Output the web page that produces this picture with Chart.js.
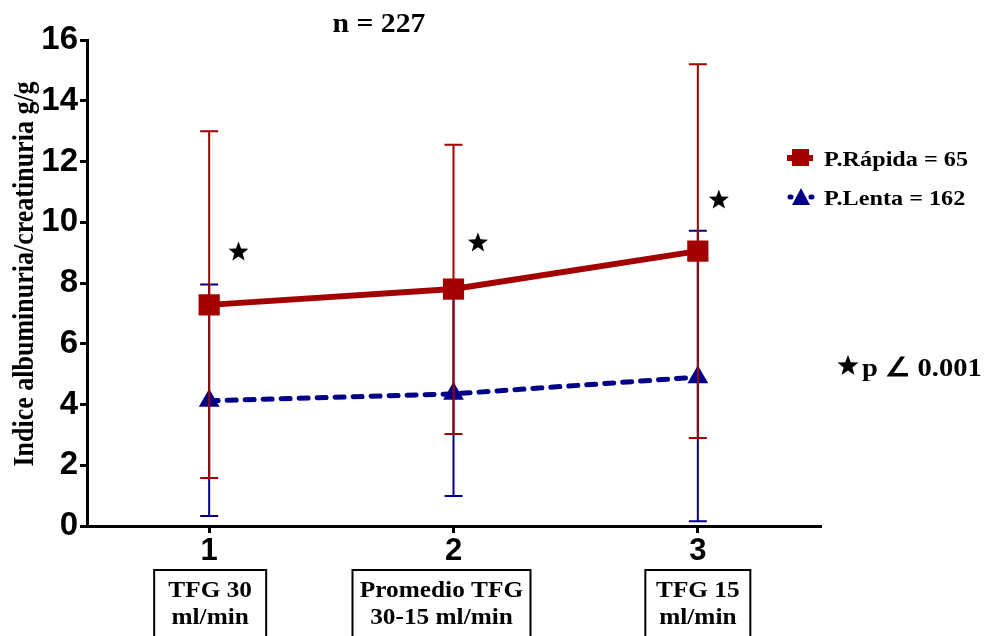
<!DOCTYPE html>
<html lang="es">
<head>
  <meta charset="UTF-8" />
  <title>Indice albuminuria/creatinuria</title>
  <script src="https://cdn.jsdelivr.net/npm/chart.js"></script>
  <style>
    html, body { margin: 0; padding: 0; background: #fff; }
    .wrap { position: relative; width: 989px; height: 636px; }
  </style>
</head>
<body>
  <div class="wrap"><canvas id="chart" width="989" height="636"></canvas></div>

  <script>
    // data
    const stages = [1, 2, 3];
    const stageLabels = [['TFG 30', 'ml/min'], ['Promedio TFG', '30-15 ml/min'], ['TFG 15', 'ml/min']];
    const rapidaMean = [7.28, 7.80, 9.05];
    const rapidaHigh = [13.0, 12.55, 15.2];
    const rapidaLow = [1.58, 3.03, 2.9];
    const lentaMean = [4.12, 4.35, 4.9];
    const lentaHigh = [7.95, 7.7, 9.72];
    const lentaLow = [0.33, 0.99, 0.16];
    const starX = [1.12, 2.1, 3.086];
    const starY = [9.02, 9.32, 10.73];
    const yTicks = [0, 2, 4, 6, 8, 10, 12, 14, 16];

    const RED = '#a30000';
    const BLUE = '#000088';
    const SERIF = '"Liberation Serif", "Times New Roman", serif';
    const SANS = '"Liberation Sans", Arial, sans-serif';
    const STRETCH = 1.1; // the source figure is a bit wider than tall

    const errLow = [lentaLow, rapidaLow];
    const errHigh = [lentaHigh, rapidaHigh];
    const errColor = [BLUE, RED];

    function drawStar(ctx, cx, cy, r) {
      ctx.beginPath();
      for (let i = 0; i < 10; i++) {
        const rad = i % 2 === 0 ? r : r * 0.42;
        const a = -Math.PI / 2 + i * Math.PI / 5;
        ctx.lineTo(cx + rad * Math.cos(a), cy + rad * Math.sin(a));
      }
      ctx.closePath();
      ctx.fill();
    }

    // text stretched horizontally like in the original
    function wideText(ctx, txt, x, y, align) {
      ctx.save();
      ctx.translate(x, y);
      ctx.scale(STRETCH, 1);
      ctx.textAlign = align || 'center';
      ctx.fillText(txt, 0, 0);
      ctx.restore();
    }

    const extras = {
      id: 'extras',
      beforeDatasetDraw(chart, args) {
        const ctx = chart.ctx, x = chart.scales.x, y = chart.scales.y;
        const i = args.index;
        ctx.save();
        ctx.strokeStyle = errColor[i];
        ctx.lineWidth = 2;
        stages.forEach((s, k) => {
          const px = x.getPixelForValue(s);
          const top = y.getPixelForValue(errHigh[i][k]);
          const bot = y.getPixelForValue(errLow[i][k]);
          ctx.beginPath();
          ctx.moveTo(px, top); ctx.lineTo(px, bot);
          ctx.moveTo(px - 9, top); ctx.lineTo(px + 9, top);
          ctx.moveTo(px - 9, bot); ctx.lineTo(px + 9, bot);
          ctx.stroke();
        });
        ctx.restore();
      },
      afterDraw(chart) {
        const ctx = chart.ctx, x = chart.scales.x, y = chart.scales.y;
        ctx.save();
        ctx.fillStyle = '#000';
        ctx.textBaseline = 'alphabetic';

        // significance stars
        starX.forEach((sx, k) => drawStar(ctx, x.getPixelForValue(sx), y.getPixelForValue(starY[k]), 10.5));

        // title
        ctx.font = 'bold 27px ' + SERIF;
        wideText(ctx, 'n = 227', 379, 32);

        // y-axis title
        ctx.save();
        ctx.translate(33, 274);
        ctx.rotate(-Math.PI / 2);
        ctx.scale(1, STRETCH);
        ctx.font = 'bold 26px ' + SERIF;
        ctx.textAlign = 'center';
        ctx.fillText('Indice albuminuria/creatinuria g/g', 0, 0);
        ctx.restore();

        // category boxes under the x axis
        const boxW = [112, 178, 105];
        const boxShift = [1, -12, 0];
        ctx.font = 'bold 23px ' + SERIF;
        ctx.lineWidth = 2;
        ctx.strokeStyle = '#000';
        stages.forEach((s, k) => {
          const cx = x.getPixelForValue(s) + boxShift[k];
          ctx.strokeRect(cx - boxW[k] / 2, 570, boxW[k], 80);
          wideText(ctx, stageLabels[k][0], cx, 597);
          wideText(ctx, stageLabels[k][1], cx, 624);
        });

        // legend
        ctx.font = 'bold 22px ' + SERIF;
        ctx.strokeStyle = RED;
        ctx.lineWidth = 6;
        ctx.beginPath(); ctx.moveTo(787, 158); ctx.lineTo(813, 158); ctx.stroke();
        ctx.fillStyle = RED;
        ctx.fillRect(792, 149, 17, 17);
        ctx.fillStyle = '#000';
        wideText(ctx, 'P.Rápida = 65', 824, 166, 'left');

        ctx.strokeStyle = BLUE;
        ctx.lineWidth = 5;
        ctx.lineCap = 'round';
        ctx.beginPath(); ctx.moveTo(790, 197); ctx.lineTo(791, 197); ctx.moveTo(811, 197); ctx.lineTo(812, 197); ctx.stroke();
        ctx.fillStyle = BLUE;
        ctx.beginPath(); ctx.moveTo(801, 188); ctx.lineTo(810, 205); ctx.lineTo(792, 205); ctx.closePath(); ctx.fill();
        ctx.fillStyle = '#000';
        wideText(ctx, 'P.Lenta = 162', 824, 205, 'left');

        // p-value note
        drawStar(ctx, 848, 366, 11);
        ctx.font = 'bold 26px ' + SERIF;
        wideText(ctx, 'p ∠ 0.001', 862, 376, 'left');
        ctx.restore();
      }
    };

    new Chart(document.getElementById('chart'), {
      type: 'line',
      data: {
        datasets: [
          {
            label: 'P.Lenta = 162',
            data: stages.map((s, k) => ({ x: s, y: lentaMean[k] })),
            borderColor: BLUE,
            backgroundColor: BLUE,
            borderWidth: 5,
            borderDash: [9, 9],
            borderCapStyle: 'round',
            pointStyle: 'triangle',
            pointRadius: 12,
            pointBorderWidth: 0,
            order: 2
          },
          {
            label: 'P.Rápida = 65',
            data: stages.map((s, k) => ({ x: s, y: rapidaMean[k] })),
            borderColor: RED,
            backgroundColor: RED,
            borderWidth: 6,
            pointStyle: 'rect',
            pointRadius: 15,
            pointBorderWidth: 0,
            order: 1
          }
        ]
      },
      options: {
        responsive: false,
        animation: false,
        layout: { padding: { left: 0, right: 169, top: 40, bottom: 0 } },
        plugins: { legend: { display: false }, tooltip: { enabled: false } },
        scales: {
          x: {
            type: 'linear',
            min: 0.5,
            max: 3.5,
            afterBuildTicks(scale) { scale.ticks = stages.map(v => ({ value: v })); },
            afterFit(scale) { scale.height = 110; },
            border: { color: '#000', width: 3 },
            grid: { drawOnChartArea: false, color: '#000', lineWidth: 3, tickLength: 7 },
            ticks: { color: '#000', font: { family: SANS, size: 31, weight: 'bold' }, padding: 0 }
          },
          y: {
            min: 0,
            max: 16,
            afterBuildTicks(scale) { scale.ticks = yTicks.map(v => ({ value: v })); },
            afterFit(scale) { scale.width = 87; },
            border: { color: '#000', width: 3 },
            grid: { drawOnChartArea: false, color: '#000', lineWidth: 3, tickLength: 7 },
            ticks: { color: '#000', font: { family: SANS, size: 33, weight: 'bold' }, padding: 2 }
          }
        }
      },
      plugins: [extras]
    });
  </script>
</body>
</html>
